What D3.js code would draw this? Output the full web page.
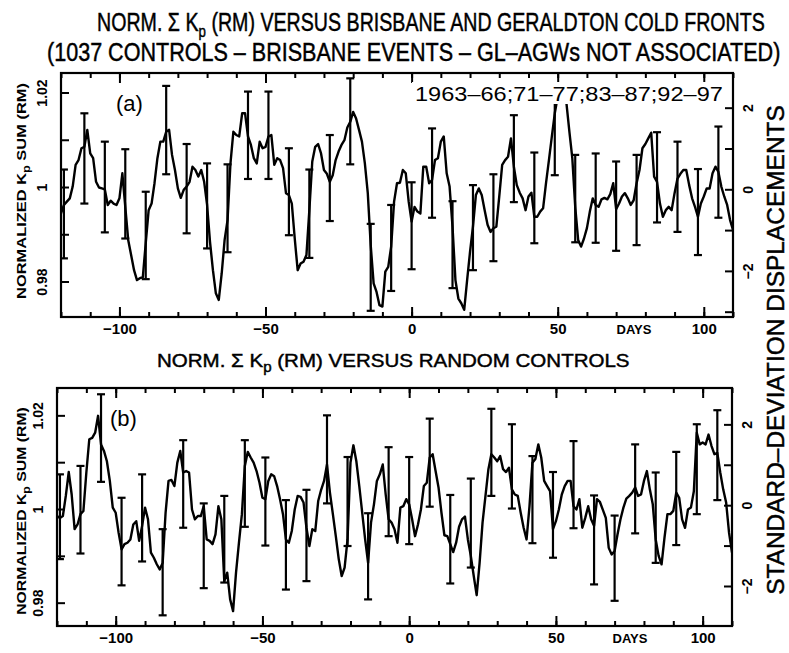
<!DOCTYPE html>
<html>
<head>
<meta charset="utf-8">
<script src="https://cdn.jsdelivr.net/npm/d3@7/dist/d3.min.js"></script>
<style>
  body { margin: 0; background: #fff; }
  svg { display: block; }
  .tick line { stroke: #000; stroke-width: 2; }
  .lbl { font-family: "Liberation Sans", Arial, sans-serif; font-weight: bold; fill: #000; }
  .ttl { font-family: "Liberation Sans Narrow", "Liberation Sans", Arial, sans-serif; fill: #000;
         stroke: #000; stroke-width: 0.45px; }
</style>
</head>
<body>
<svg id="chart" width="789" height="653"></svg>
<script>
// days relative to event (one value per day, -120 .. 110)
var days = d3.range(-120, 111);
// error bars every 7 days
var barDays = d3.range(-119, 106, 7);

// (a) Brisbane / Geraldton cold fronts
var kpA = [
  0.9944, 0.9962, 0.9969, 0.9976, 1.0001, 1.0047, 1.0057, 1.0082, 1.0085, 1.0121,
  1.0071, 1.0061, 1.0011, 0.9999, 0.9997, 0.9995, 0.9962, 0.9971, 0.9965, 0.9962,
  0.9976, 1.0029, 0.9958, 0.9888, 0.9856, 0.9824, 0.9803, 0.9807, 0.9809, 0.9881,
  0.9951, 0.9965, 1.0008, 1.0061, 1.0096, 1.0096, 1.0117, 1.0121, 1.0068, 1.0036,
  0.9997, 0.9977, 0.9994, 1.0001, 1.0011, 1.0043, 1.0036, 1.0022, 1.0036, 1.0011,
  0.9962, 0.9884, 0.9824, 0.9775, 0.9761, 0.9817, 0.9888, 0.9930, 1.0050, 1.0117,
  1.0110, 1.0107, 1.0156, 1.0156, 1.0107, 1.0089, 1.0061, 1.0050, 1.0096, 1.0082,
  1.0085, 1.0107, 1.0110, 1.0047, 1.0061, 1.0057, 1.0040, 0.9987, 0.9983, 0.9965,
  0.9891, 0.9824, 0.9838, 0.9842, 0.9856, 0.9951, 1.0054, 1.0085, 1.0091, 1.0071,
  1.0036, 1.0028, 1.0011, 1.0025, 1.0057, 1.0075, 1.0089, 1.0099, 1.0126, 1.0138,
  1.0159, 1.0145, 1.0121, 1.0096, 1.0050, 0.9987, 0.9877, 0.9796, 0.9778, 0.9750,
  0.9747, 0.9821, 0.9831, 0.9874, 0.9969, 1.0008, 1.0009, 1.0036, 1.0029, 0.9969,
  0.9927, 0.9958, 0.9948, 0.9944, 1.0043, 1.0043, 1.0008, 1.0015, 1.0057, 1.0061,
  1.0096, 1.0107, 1.0029, 1.0001, 0.9916, 0.9803, 0.9764, 0.9754, 0.9740, 0.9803,
  0.9863, 0.9916, 0.9983, 0.9997, 0.9983, 0.9951, 0.9920, 0.9905, 0.9913, 0.9916,
  0.9980, 1.0047, 1.0057, 1.0064, 1.0103, 1.0043, 1.0004, 0.9988, 0.9976, 0.9951,
  0.9980, 0.9988, 0.9937, 0.9937, 0.9948, 0.9955, 1.0008, 1.0057, 1.0107, 1.0156,
  1.0191, 1.0205, 1.0198, 1.0177, 1.0117, 1.0061, 0.9958, 0.9888, 0.9874, 0.9891,
  0.9913, 0.9948, 0.9976, 0.9962, 0.9958, 0.9974, 0.9977, 0.9974, 0.9985, 1.0008,
  0.9953, 0.9965, 0.9980, 0.9987, 0.9976, 0.9962, 0.9972, 1.0008, 1.0036, 1.0082,
  1.0091, 1.0103, 1.0115, 1.0022, 1.0011, 0.9965, 0.9937, 0.9951, 0.9958, 0.9951,
  0.9987, 1.0018, 1.0028, 1.0036, 1.0036, 1.0004, 0.9976, 0.9958, 0.9937, 0.9965,
  0.9980, 0.9997, 0.9997, 1.0029, 1.0043, 1.0032, 1.0001, 0.9980, 0.9962, 0.9930, 0.9909
];
var barHiA = [1.0037, 1.0156, 1.0096, 1.0080, 0.9990, 1.0214, 1.0091, 1.0050, 1.0048, 1.0202, 1.0202,
  1.0082, 1.0037, 1.0110, 1.0230, 0.9922, 0.9962, 1.0010, 1.0124, 0.9970, 1.0004, 1.0027,
  1.0152, 1.0073, 1.0212, 1.0068, 1.0071, 1.0054, 1.0068, 1.0116, 1.0096, 1.0038, 1.0128];
var barLoA = [0.9849, 0.9965, 0.9904, 0.9891, 0.9805, 1.0027, 0.9902, 0.9870, 0.9862, 1.0017, 1.0017,
  0.9898, 0.9850, 0.9928, 1.0048, 0.9738, 0.9780, 0.9826, 0.9935, 0.9786, 0.9824, 0.9843,
  0.9968, 0.9881, 1.0025, 0.9883, 0.9882, 0.9865, 0.9877, 0.9925, 0.9905, 0.9856, 0.9935];

// (b) random controls
var kpB = [
  0.9985, 0.9981, 0.9985, 1.0028, 1.0079, 1.0031, 0.9957, 0.9967, 0.9989, 0.9996,
  1.0078, 1.0149, 1.0152, 1.0163, 1.0199, 1.0138, 1.0124, 1.0102, 1.0060, 1.0003,
  0.9992, 0.9949, 0.9914, 0.9925, 0.9928, 0.9935, 0.9967, 0.9974, 0.9932, 0.9964,
  1.0003, 0.9978, 0.9907, 0.9896, 0.9882, 0.9871, 0.9885, 0.9992, 1.0060, 1.0062,
  1.0049, 1.0099, 1.0124, 1.0078, 1.0081, 1.0078, 0.9999, 0.9978, 0.9985, 0.9985,
  1.0006, 0.9935, 0.9932, 0.9925, 0.9946, 1.0006, 0.9978, 0.9846, 0.9864, 0.9807,
  0.9782, 0.9864, 0.9928, 0.9989, 1.0092, 1.0122, 1.0110, 1.0099, 1.0081, 1.0056,
  1.0024, 1.0021, 1.0060, 1.0074, 1.0070, 1.0049, 1.0021, 0.9989, 0.9935, 0.9928,
  0.9953, 0.9999, 1.0028, 1.0026, 1.0014, 0.9960, 0.9921, 0.9957, 0.9953, 1.0017,
  1.0041, 1.0060, 1.0095, 1.0035, 0.9989, 0.9942, 0.9893, 0.9857, 0.9875, 0.9935,
  1.0099, 1.0136, 1.0102, 1.0049, 0.9992, 0.9935, 0.9885, 0.9971, 1.0010, 1.0060,
  1.0074, 1.0095, 1.0031, 0.9978, 0.9971, 0.9957, 0.9928, 1.0003, 1.0006, 1.0021,
  1.0010, 0.9978, 0.9942, 0.9967, 0.9999, 1.0049, 1.0056, 1.0110, 1.0117, 1.0081,
  1.0046, 0.9992, 0.9944, 0.9942, 0.9925, 0.9908, 0.9928, 0.9962, 0.9978, 0.9984,
  0.9935, 0.9900, 0.9857, 0.9816, 0.9885, 0.9971, 1.0028, 1.0085, 1.0117, 1.0110,
  1.0102, 1.0113, 1.0085, 1.0079, 1.0088, 1.0042, 1.0031, 1.0028, 0.9992, 0.9960,
  0.9935, 1.0006, 1.0099, 1.0107, 1.0138, 1.0110, 1.0060, 1.0049, 1.0038, 0.9957,
  0.9974, 0.9999, 1.0031, 1.0049, 1.0060, 1.0060, 1.0006, 0.9999, 1.0021, 0.9960,
  0.9981, 1.0006, 0.9978, 0.9964, 1.0021, 1.0015, 0.9998, 0.9981, 0.9917, 0.9903,
  0.9910, 0.9946, 0.9978, 1.0003, 1.0022, 1.0028, 1.0035, 1.0046, 1.0028, 1.0031,
  1.0060, 1.0081, 1.0042, 1.0010, 0.9935, 0.9900, 0.9882, 0.9939, 0.9989, 0.9989,
  0.9996, 1.0035, 1.0024, 0.9978, 0.9960, 0.9999, 1.0003, 1.0038, 1.0163, 1.0138,
  1.0142, 1.0138, 1.0159, 1.0135, 1.0117, 1.0120, 1.0078, 1.0042, 1.0014, 0.9949, 0.9907
];
var barHiB = [1.0074, 1.0092, 1.0245, 1.0024, 1.0074, 0.9957, 1.0147, 1.0012, 1.0028, 1.0147, 1.0110,
  1.0019, 1.0041, 1.0200, 1.0111, 0.9991, 1.0132, 1.0111, 1.0193, 1.0030, 1.0065, 1.0214,
  1.0181, 1.0113, 1.0079, 1.0145, 1.0029, 0.9986, 1.0138, 1.0078, 1.0122, 1.0181, 1.0211];
var barLoB = [0.9893, 0.9905, 1.0058, 0.9837, 0.9888, 0.9773, 0.9960, 0.9831, 0.9843, 0.9962, 0.9922,
  0.9828, 0.9846, 1.0012, 0.9921, 0.9807, 0.9942, 0.9925, 1.0005, 0.9841, 0.9875, 1.0028,
  1.0001, 0.9927, 0.9896, 0.9959, 0.9839, 0.9804, 0.9948, 0.9885, 0.9923, 0.9989, 1.0019];

// ticks
var dayTicks = d3.range(-120, 111, 10);
var dayLabels = [-100, -50, 0, 50, 100];
var kpTicks = [0.98, 0.99, 1, 1.01, 1.02];
var kpLabels = [0.98, 1, 1.02];
var sdTicks = [-3, -2, -1, 0, 1, 2];
var sdLabels = [-2, 0, 2];

var svg = d3.select('#chart');
var minus = function(d) { return d < 0 ? '\u2212' + Math.abs(d) : '' + d; };

// squeeze a text node horizontally to a given width (the source uses a narrow face)
function fitWidth(t, len, pre) {
  var w = t.node().getBBox().width;
  t.attr('transform', pre + ' scale(' + (len / w) + ',1)');
}

function panel(cfg) {
  var x = d3.scaleLinear().domain([-120, 110]).range([cfg.left, cfg.right]);
  var y = d3.scaleLinear().domain(cfg.kpDomain).range([cfg.bottom, cfg.top]);
  var ySd = d3.scaleLinear().domain(cfg.sdDomain).range([cfg.bottom, cfg.top]);
  var g = svg.append('g');

  g.append('clipPath').attr('id', cfg.id + 'clip')
    .append('rect')
    .attr('x', cfg.left).attr('y', cfg.top)
    .attr('width', cfg.right - cfg.left).attr('height', cfg.bottom - cfg.top);

  // minor + major ticks, all pointing inward
  function xAxes(gen, ty) {
    g.append('g').attr('transform', 'translate(0,' + ty + ')')
      .call(gen(x).tickValues(dayTicks).tickSize(-5).tickFormat(''))
      .call(function(s) { s.select('.domain').remove(); });
  }
  xAxes(d3.axisBottom, cfg.bottom);
  xAxes(d3.axisTop, cfg.top);
  g.append('g').attr('transform', 'translate(0,' + cfg.top + ')')
    .call(d3.axisTop(x).tickValues(dayLabels).tickSize(-10).tickFormat(''))
    .call(function(s) { s.select('.domain').remove(); });
  var xl = g.append('g').attr('transform', 'translate(0,' + cfg.bottom + ')')
    .call(d3.axisBottom(x).tickValues(dayLabels).tickSize(-10).tickPadding(6).tickFormat(minus));
  xl.select('.domain').remove();
  xl.selectAll('text').attr('class', 'lbl').style('font-size', '15px');

  var yl = g.append('g').attr('transform', 'translate(' + cfg.left + ',0)')
    .call(d3.axisLeft(y).tickValues(kpTicks).tickSize(-8)
      .tickFormat(function(d) { return kpLabels.indexOf(d) >= 0 ? (d === 1 ? '1' : d3.format('.2f')(d)) : ''; }));
  yl.select('.domain').remove();
  yl.selectAll('text').attr('class', 'lbl').style('font-size', '14px')
    .attr('x', 0).attr('y', -14).attr('dy', null)
    .attr('text-anchor', 'middle').attr('transform', 'rotate(-90)');

  var yr = g.append('g').attr('transform', 'translate(' + cfg.right + ',0)')
    .call(d3.axisRight(ySd).tickValues(sdTicks.filter(function(d) { return d >= cfg.sdDomain[0] && d <= cfg.sdDomain[1]; }))
      .tickSize(-8).tickFormat(function(d) { return sdLabels.indexOf(d) >= 0 ? minus(d) : ''; }));
  yr.select('.domain').remove();
  yr.selectAll('text').attr('class', 'lbl').style('font-size', '14px')
    .attr('x', 0).attr('y', 20).attr('dy', null)
    .attr('text-anchor', 'middle').attr('transform', 'rotate(-90)');

  // DAYS label
  g.append('text').attr('class', 'lbl').style('font-size', '13px')
    .attr('x', cfg.daysX).attr('y', cfg.bottom + 17).attr('text-anchor', 'middle').text('DAYS');

  // data line
  var line = d3.line().x(function(d, i) { return x(days[i]); }).y(function(d) { return y(d); });
  g.append('path').datum(cfg.kp)
    .attr('clip-path', 'url(#' + cfg.id + 'clip)')
    .attr('d', line).attr('fill', 'none').attr('stroke', '#000')
    .attr('stroke-width', 2.4).attr('stroke-linejoin', 'round');

  // error bars
  var bars = g.append('g').attr('clip-path', 'url(#' + cfg.id + 'clip)')
    .selectAll('g').data(barDays).enter().append('g')
    .attr('stroke', '#000').attr('stroke-width', 2.2);
  bars.append('line')
    .attr('x1', function(d) { return x(d); }).attr('x2', function(d) { return x(d); })
    .attr('y1', function(d, i) { return y(cfg.hi[i]); }).attr('y2', function(d, i) { return y(cfg.lo[i]); });
  [cfg.hi, cfg.lo].forEach(function(arr) {
    bars.append('line')
      .attr('x1', function(d) { return x(d) - 4; }).attr('x2', function(d) { return x(d) + 4; })
      .attr('y1', function(d, i) { return y(arr[i]); }).attr('y2', function(d, i) { return y(arr[i]); });
  });

  // frame
  g.append('rect').attr('x', cfg.left).attr('y', cfg.top)
    .attr('width', cfg.right - cfg.left).attr('height', cfg.bottom - cfg.top)
    .attr('fill', 'none').attr('stroke', '#000').attr('stroke-width', 2.2);

  // left axis title
  var t = g.append('text').attr('class', 'lbl').style('font-size', '13px')
    .attr('text-anchor', 'middle');
  t.append('tspan').text('NORMALIZED K');
  t.append('tspan').attr('dy', 4).style('font-size', '10px').text('p');
  t.append('tspan').attr('dy', -4).text(' SUM (RM)');
  fitWidth(t, cfg.titleLen, 'translate(26,' + cfg.titleY + ') rotate(-90)');

  // panel tag
  g.append('text').attr('x', cfg.tagX).attr('y', cfg.tagY)
    .style('font-family', '"Liberation Sans", Arial, sans-serif').style('font-size', '22px')
    .text(cfg.tag);
  return g;
}

panel({ id: 'a', left: 61, right: 733, top: 73, bottom: 317,
  kpDomain: [0.97249, 1.02413], sdDomain: [-3.13, 2.85],
  kp: kpA, hi: barHiA, lo: barLoA, daysX: 634, titleY: 191, titleLen: 216,
  tag: '(a)', tagX: 116, tagY: 111 });
panel({ id: 'b', left: 57, right: 732, top: 388, bottom: 626,
  kpDomain: [0.97502, 1.02584], sdDomain: [-2.99, 2.90],
  kp: kpB, hi: barHiB, lo: barLoB, daysX: 630, titleY: 511, titleLen: 208,
  tag: '(b)', tagX: 110, tagY: 426 });

// year label in panel (a), drawn on white
svg.append('rect').attr('x', 412).attr('y', 82).attr('width', 316).attr('height', 22).attr('fill', '#fff');
var yr = svg.append('text')
  .style('font-family', '"Liberation Sans", Arial, sans-serif').style('font-size', '21px')
  .text('1963\u201366;71\u201377;83\u201387;92\u201397');
fitWidth(yr, 308, 'translate(415,101)');

// titles
function title(x, y, len, size, parts) {
  var t = svg.append('text').attr('class', 'ttl').style('font-size', size + 'px');
  parts.forEach(function(p) {
    var s = t.append('tspan').text(p[0]);
    if (p[1]) s.attr('dy', p[1]);
    if (p[2]) s.style('font-size', p[2] + 'px');
  });
  fitWidth(t, len, 'translate(' + x + ',' + y + ')');
}
title(97, 31, 668, 25, [['NORM. \u03a3 K'], ['p', 6, 17], [' (RM) VERSUS BRISBANE AND GERALDTON COLD FRONTS', -6]]);
title(47, 61, 734, 25, [['(1037 CONTROLS \u2013 BRISBANE EVENTS \u2013 GL\u2013AGWs NOT ASSOCIATED)']]);
title(157, 367, 473, 19, [['NORM. \u03a3 K'], ['p', 5, 14], [' (RM) VERSUS RANDOM CONTROLS', -5]]);

// right-hand axis title
var rt = svg.append('text').attr('class', 'ttl').style('font-size', '23px')
  .attr('text-anchor', 'middle')
  .text('STANDARD\u2013DEVIATION  DISPLACEMENTS');
fitWidth(rt, 490, 'translate(784,350) rotate(-90)');
</script>
</body>
</html>
